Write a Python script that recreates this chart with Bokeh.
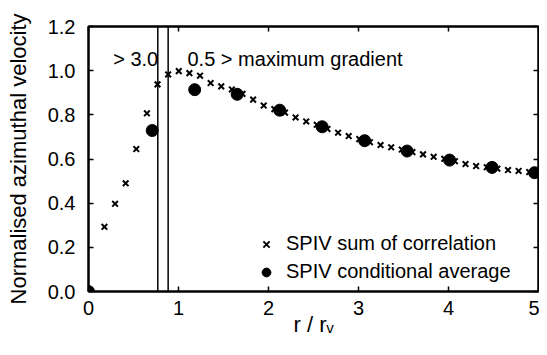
from bokeh.plotting import figure
from bokeh.models import (Label, Legend, LegendItem, LinearAxis, Span,
                          FixedTicker, Range1d, PrintfTickFormatter)
from bokeh.embed import file_html
from bokeh.resources import INLINE

# ---- data ----
corr_r = [0.177, 0.295, 0.413, 0.531, 0.649, 0.767, 0.885, 1.003, 1.121, 1.239,
          1.357, 1.475, 1.593, 1.711, 1.829, 1.947, 2.065, 2.183, 2.301, 2.419,
          2.537, 2.655, 2.773, 2.891, 3.009, 3.127, 3.245, 3.363, 3.481, 3.599,
          3.717, 3.835, 3.953, 4.071, 4.189, 4.307, 4.425, 4.543, 4.661, 4.779,
          4.897]
corr_v = [0.293, 0.397, 0.490, 0.645, 0.807, 0.938, 0.983, 0.998, 0.989, 0.977,
          0.944, 0.929, 0.915, 0.895, 0.869, 0.842, 0.826, 0.810, 0.788, 0.770,
          0.755, 0.736, 0.719, 0.704, 0.690, 0.676, 0.663, 0.653, 0.643, 0.631,
          0.621, 0.610, 0.601, 0.590, 0.577, 0.568, 0.563, 0.556, 0.550, 0.546,
          0.541]
cond_r = [0.0, 0.708, 1.180, 1.652, 2.124, 2.596, 3.068, 3.540, 4.012, 4.484, 4.956]
cond_v = [0.0, 0.729, 0.914, 0.893, 0.821, 0.746, 0.683, 0.636, 0.595, 0.562, 0.538]
gradient_r = [0.77, 0.885]
x_ticks = [0, 1, 2, 3, 4, 5]
y_ticks = [0.0, 0.2, 0.4, 0.6, 0.8, 1.0, 1.2]
series_names = ["SPIV sum of correlation", "SPIV conditional average"]
note_left = "> 3.0"
note_right = "0.5 > maximum gradient"
x_title = "r / r\u1d65"
y_title = "Normalised azimuthal velocity"

FONT = "Liberation Sans"

p = figure(width=539, height=339, output_backend="svg", toolbar_location=None,
           x_range=Range1d(0, 5), y_range=Range1d(0, 1.2),
           min_border_left=88, min_border_right=1, min_border_top=26,
           min_border_bottom=47, background_fill_color="white",
           border_fill_color="white")
p.grid.visible = False
p.outline_line_color = "black"
p.outline_line_width = 2


def style_axis(ax, ticks, show_labels):
    ax.ticker = FixedTicker(ticks=ticks, minor_ticks=[])
    ax.major_tick_in = 5
    ax.major_tick_out = 0
    ax.major_tick_line_width = 1.5
    ax.major_tick_line_color = "black"
    ax.axis_line_width = 2
    ax.axis_line_color = "black"
    ax.minor_tick_line_color = None
    if show_labels:
        ax.major_label_text_font = FONT
        ax.major_label_text_font_size = "20px"
        ax.major_label_text_color = "black"
    else:
        ax.major_label_overrides = {t: "" for t in ticks}
        ax.major_label_text_font_size = "1px"
        ax.major_label_standoff = 0


xa = p.xaxis[0]
style_axis(xa, x_ticks, True)
xa.major_label_standoff = 9
xa.axis_label = x_title
xa.axis_label_text_font = FONT
xa.axis_label_text_font_size = "22px"
xa.axis_label_text_font_style = "normal"
xa.axis_label_text_color = "black"
xa.axis_label_standoff = -6

ya = p.yaxis[0]
style_axis(ya, y_ticks, True)
ya.formatter = PrintfTickFormatter(format="%.1f")
ya.major_label_standoff = 13
ya.axis_label = y_title
ya.axis_label_text_font = FONT
ya.axis_label_text_font_size = "22px"
ya.axis_label_text_font_style = "normal"
ya.axis_label_text_color = "black"
ya.axis_label_standoff = 14

top = LinearAxis()
style_axis(top, x_ticks, False)
p.add_layout(top, "above")
right = LinearAxis()
style_axis(right, y_ticks, False)
p.add_layout(right, "right")

for g in gradient_r:
    p.add_layout(Span(location=g, dimension="height", line_color="black",
                      line_width=1.5))

r1 = p.scatter(corr_r, corr_v, marker="x", size=8, line_color="black",
               line_width=2)
r2 = p.scatter(cond_r, cond_v, marker="circle", size=12, fill_color="black",
               line_color="black")

legend = Legend(items=[LegendItem(label=series_names[0], renderers=[r1]),
                       LegendItem(label=series_names[1], renderers=[r2])],
                location=(167, 8), border_line_color=None,
                background_fill_alpha=0, padding=0, margin=0, spacing=5,
                label_text_font=FONT, label_text_font_size="20px",
                label_text_color="black", glyph_width=22, glyph_height=22,
                label_height=22, label_standoff=9)
p.add_layout(legend)

for txt, xpos in [(note_left, 0.274), (note_right, 1.10)]:
    p.add_layout(Label(x=xpos, y=1.052, text=txt, text_font=FONT,
                       text_font_size="20px", text_color="black",
                       text_baseline="alphabetic", text_align="left"))

open("out.html", "w").write(file_html(p, INLINE))
